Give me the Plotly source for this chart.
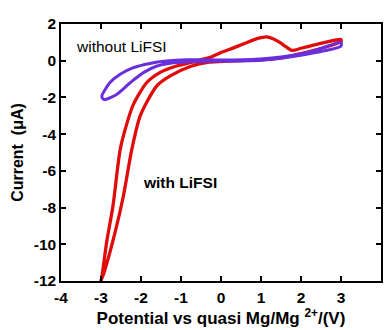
import plotly.graph_objects as go

# with LiFSI (red) closed CV loop
red_x = [3.0, 2.6, 2.22, 2.0, 1.77, 1.6, 1.48, 1.3, 1.14, 0.9, 0.6, 0.22, 0.0, -0.28, -0.78, -1.11,
         -1.53, -1.86, -2.19, -2.35, -2.52, -2.7, -2.86, -2.98, -3.0,
         -2.9, -2.65, -2.44, -2.23, -2.02, -1.61, -1.28, -0.75, -0.3, 0.2, 1.0, 1.5, 1.9, 2.3, 2.7, 3.0, 3.0]
red_y = [1.16, 1.0, 0.8, 0.68, 0.56, 0.8, 0.98, 1.2, 1.3, 1.2, 0.95, 0.62, 0.45, 0.18, -0.11, -0.29,
         -0.65, -1.2, -2.38, -3.4, -4.83, -7.9, -9.9, -11.8, -12.0,
         -11.37, -9.37, -7.37, -4.83, -3.0, -1.38, -0.84, -0.3, -0.08, -0.02, 0.05, 0.15, 0.34, 0.55, 0.8, 1.05, 1.16]

# without LiFSI (purple) closed CV loop
pur_x = [3.0, 2.3, 1.5, 0.97, 0.0, -0.86, -1.36, -1.78, -2.19, -2.53, -2.78, -2.98, -2.95, -2.9, -2.61, -2.27,
         -1.94, -1.6, -1.19, -0.6, 0.0, 1.0, 2.0, 2.6, 3.0, 3.0]
pur_y = [1.0, 0.52, 0.2, 0.1, 0.04, 0.05, -0.02, -0.15, -0.38, -0.75, -1.2, -1.93, -2.08, -2.12, -1.84, -1.2,
         -0.65, -0.29, -0.11, -0.04, -0.02, 0.03, 0.3, 0.55, 0.8, 1.0]

x_ticks = [-4, -3, -2, -1, 0, 1, 2, 3, 4]
x_labels = ["-4", "-3", "-2", "-1", "0", "1", "2", "3", "4"]
y_ticks = [2, 0, -2, -4, -6, -8, -10, -12]
y_labels = ["2", "0", "-2", "-4", "-6", "-8", "-10", "-12"]

FONT = "Arial, Liberation Sans, sans-serif"

fig = go.Figure()
fig.add_trace(go.Scatter(x=red_x, y=red_y, mode="lines",
                         line=dict(color="#e00b0b", width=3.3, shape="spline", smoothing=0.7),
                         showlegend=False))
fig.add_trace(go.Scatter(x=pur_x, y=pur_y, mode="lines",
                         line=dict(color="#6a2fdc", width=3, shape="spline", smoothing=0.7),
                         showlegend=False))

axis_common = dict(showline=True, linecolor="black", linewidth=1.5, mirror="ticks",
                   ticks="inside", ticklen=5, tickwidth=1.5, tickcolor="black",
                   showgrid=False, zeroline=False, automargin=False,
                   tickfont=dict(family=FONT, size=15.5, color="black", weight="bold"))

fig.update_xaxes(range=[-4, 4], tickvals=x_ticks,
                 ticktext=["<b>%s</b>" % t for t in x_labels], ticklabelstandoff=2,
                 title=dict(text="Potential vs quasi Mg/Mg <sup>2+</sup>/(V)",
                            font=dict(family=FONT, size=17, color="black", weight="bold"),
                            standoff=4),
                 **axis_common)
fig.update_yaxes(range=[-12, 2], tickvals=y_ticks,
                 ticktext=["<b>%s</b>" % t for t in y_labels],
                 title=dict(text="Current  (μA)",
                            font=dict(family=FONT, size=16, color="black", weight="bold"),
                            standoff=6),
                 **axis_common)

fig.add_annotation(x=-3.675, y=0.78, text="without LiFSI", showarrow=False, xanchor="left",
                   font=dict(family=FONT, size=15.5, color="black"))
fig.add_annotation(x=-2.0, y=-6.63, text="with LiFSI", showarrow=False, xanchor="left",
                   font=dict(family=FONT, size=15.5, color="black", weight="bold"))

fig.update_layout(width=385, height=330, margin=dict(l=61, r=4, t=24, b=49),
                  plot_bgcolor="white", paper_bgcolor="white")

fig.write_html("out.html", config={"displayModeBar": False},
               post_script="document.body.style.margin='0';")
